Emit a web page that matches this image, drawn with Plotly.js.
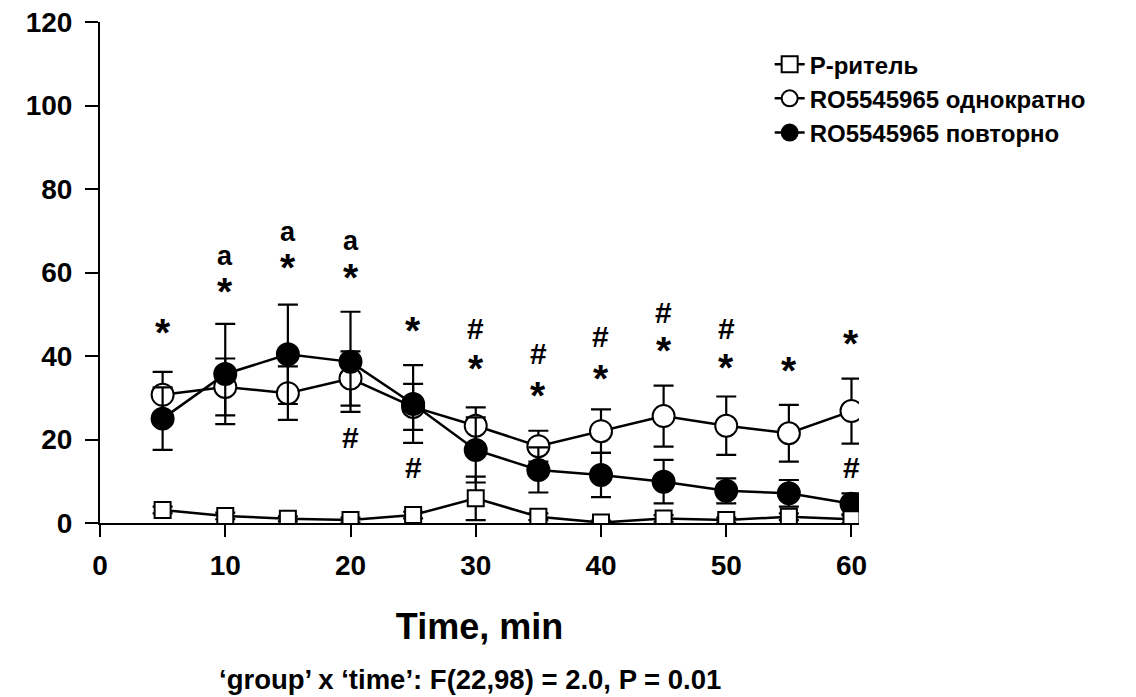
<!DOCTYPE html>
<html>
<head>
<meta charset="utf-8">
<script src="https://cdn.plot.ly/plotly-3.0.1.min.js"></script>
<style>html,body{margin:0;padding:0;background:#fff;}#chart{width:1136px;height:697px;}</style>
</head>
<body>
<div id="chart"></div>
<script>
// ---- data ----
const time = [5, 10, 15, 20, 25, 30, 35, 40, 45, 50, 55, 60];
const seriesNames = ["Р-ритель", "RO5545965 однократно", "RO5545965 повторно"];
const vehicle = [3.1, 1.7, 1.0, 0.7, 1.9, 5.9, 1.5, 0.1, 1.1, 0.7, 1.5, 0.9];
const vehicleSem = [0.8, 0.8, 0.6, 0.6, 0.8, 5.2, 0.8, 0.5, 0.8, 0.6, 0.8, 1.0];
const single = [30.7, 32.6, 31.1, 34.6, 27.8, 23.3, 18.4, 22.0, 25.6, 23.3, 21.5, 26.8];
const singleSem = [5.5, 6.8, 6.4, 6.5, 5.5, 4.4, 3.7, 5.2, 7.3, 7.0, 6.8, 7.8];
const repeated = [25.0, 35.7, 40.4, 38.6, 28.5, 17.5, 12.7, 11.5, 9.9, 7.7, 7.1, 4.6];
const repeatedSem = [7.5, 12.0, 11.9, 12.0, 9.3, 7.8, 5.4, 5.3, 5.2, 3.0, 3.2, 2.5];

// significance marks
const starX = [5, 10, 15, 20, 25, 30, 35, 40, 45, 50, 55, 60];
const starY = [47.2, 57.2, 62.8, 60.6, 47.9, 38.6, 32.3, 36.4, 43.1, 39.0, 38.3, 44.6];
const hashX = [20, 25, 30, 35, 40, 45, 50, 60];
const hashY = [20.6, 13.2, 46.5, 40.7, 44.6, 50.5, 46.7, 13.2];
const aX = [10, 15, 20];
const aY = [63.5, 69.3, 67.1];

const xTicks = [0, 10, 20, 30, 40, 50, 60];
const yTicks = [0, 20, 40, 60, 80, 100, 120];
const xTitle = "Time, min";
const subtitle = "‘group’ x ‘time’: F(22,98) = 2.0, P = 0.01";

// ---- styling ----
const FAM = "Liberation Sans, Arial, sans-serif";
const bold = (size) => ({family: FAM, size: size, color: "#000", weight: "bold"});

function errBar(arr) {
  return {type: "data", array: arr, visible: true, color: "#000", thickness: 2.2, width: 10};
}

const traces = [
  {
    x: time, y: single, name: seriesNames[1], legendrank: 2,
    mode: "lines+markers", type: "scatter",
    line: {color: "#000", width: 2.5},
    marker: {symbol: "circle", size: 22, color: "#fff", line: {color: "#000", width: 2}},
    error_y: errBar(singleSem)
  },
  {
    x: time, y: repeated, name: seriesNames[2], legendrank: 3,
    mode: "lines+markers", type: "scatter",
    line: {color: "#000", width: 2.5},
    marker: {symbol: "circle", size: 22, color: "#000", line: {color: "#000", width: 2}},
    error_y: errBar(repeatedSem)
  },
  {
    x: time, y: vehicle, name: seriesNames[0], legendrank: 1,
    mode: "lines+markers", type: "scatter",
    line: {color: "#000", width: 2.5},
    marker: {symbol: "square", size: 16, color: "#fff", line: {color: "#000", width: 2}},
    error_y: errBar(vehicleSem)
  }
];

const annotations = [];
starX.forEach((x, i) => annotations.push({x: x, y: starY[i], xref: "x", yref: "y", text: "*", showarrow: false, font: bold(39), yshift: -7}));
aX.forEach((x, i) => annotations.push({x: x, y: aY[i], xref: "x", yref: "y", text: "a", showarrow: false, font: bold(27), yshift: 2}));
hashX.forEach((x, i) => annotations.push({x: x, y: hashY[i], xref: "x", yref: "y", text: "#", showarrow: false, font: bold(30)}));
annotations.push({x: 0.487, y: -0.313, xref: "paper", yref: "paper", text: subtitle, showarrow: false, font: bold(27.5), xanchor: "center", yanchor: "middle"});

const layout = {
  width: 1136, height: 697,
  margin: {l: 100, r: 277, t: 22, b: 174},
  paper_bgcolor: "#fff", plot_bgcolor: "#fff",
  font: bold(28),
  showlegend: true,
  legend: {
    x: 0.8823, y: 0.96, xanchor: "left", yanchor: "top",
    font: bold(24), bgcolor: "rgba(0,0,0,0)", borderwidth: 0,
    traceorder: "normal"
  },
  xaxis: {
    range: [0, 60.6], tickvals: xTicks, ticktext: xTicks.map(String),
    showgrid: false, zeroline: false, showline: true, linecolor: "#000", linewidth: 2,
    ticks: "outside", ticklen: 12, tickwidth: 2, tickcolor: "#000",
    tickfont: bold(28), ticklabelstandoff: 4,
    title: {text: xTitle, font: bold(36), standoff: 34},
    automargin: false
  },
  yaxis: {
    range: [0, 120], tickvals: yTicks, ticktext: yTicks.map(String),
    showgrid: false, zeroline: false, showline: true, linecolor: "#000", linewidth: 2,
    ticks: "outside", ticklen: 13, tickwidth: 2, tickcolor: "#000",
    tickfont: bold(28), ticklabelstandoff: 7,
    automargin: false
  },
  annotations: annotations
};

Plotly.newPlot("chart", traces, layout, {displayModeBar: false, staticPlot: true});
</script>
</body>
</html>
